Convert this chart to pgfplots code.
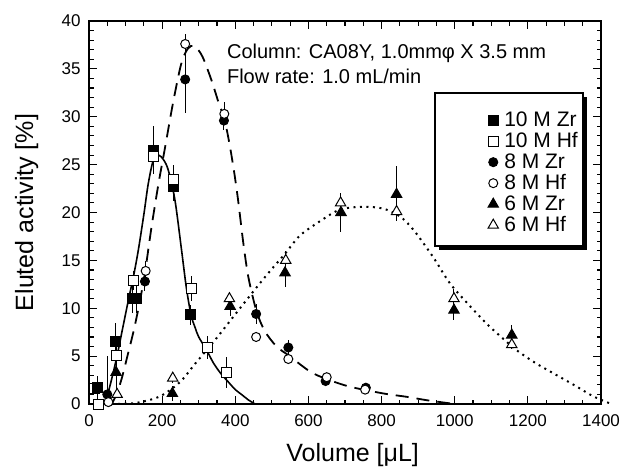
\documentclass[border=0pt]{standalone}
\usepackage{fontspec}
\setmainfont{Liberation Sans}
\usepackage{pgfplots}
\pgfplotsset{compat=1.18}
\usepackage{pgfplotstable}

\pgfplotstableread{
x y ep em
24 1.7 1.2 1.2
73 6.5 2.0 2.0
120 11.0 1.5 1.5
130 11.0 1.5 1.5
176 26.5 2.5 2.5
230 22.7 2.3 1.5
278 9.3 1.0 1.0
}\tenZr
\pgfplotstableread{
x y ep em
27 0.0 0 0
74 5.1 1.0 1.0
123 12.9 1.0 1.0
176 25.8 0 0
230 23.4 1.0 1.0
279 12.1 1.3 1.3
323 5.9 1.2 1.2
376 3.3 1.6 1.6
}\tenHf
\pgfplotstableread{
x y ep em
50 1.0 4.0 0.8
153 12.8 1.0 1.0
263 33.9 3.5 3.5
369 29.6 1.0 1.0
457 9.4 1.0 1.0
545 5.9 0.8 0.8
647 2.4 0 0
757 1.7 0 0
}\eightZr
\pgfplotstableread{
x y ep em
53 0.2 0 0
155 13.9 1.0 1.0
263 37.6 1.0 1.0
370 30.3 1.2 1.2
457 7.0 0 0
545 4.7 0 0
650 2.8 0 0
755 1.5 0 0
}\eightHf
\pgfplotstableread{
x y ep em
74 3.3 2.0 2.0
228 1.1 0.8 0.8
386 10.2 1.0 1.0
536 13.7 1.5 1.5
689 20.0 2.0 2.0
841 21.9 3.0 2.0
998 9.8 1.0 1.0
1156 7.2 1.0 1.0
}\sixZr
\pgfplotstableread{
x y ep em
77 1.0 0 0
229 2.7 0.5 0.5
384 11.0 0.5 0.5
538 15.0 1.0 1.0
688 21.0 1.0 1.0
841 20.1 1.0 1.0
998 11.0 1.0 1.0
1156 6.2 0.5 0.5
}\sixHf

\pgfplotsset{
  pts/.style={only marks, line width=1pt,
    error bars/.cd, y dir=both, y explicit, error mark=none,
    error bar style={line width=1pt, black},
    /pgfplots/.cd,
    legend image code/.code={\path[draw=none,fill=none] (0pt,-6pt) rectangle (46pt,6pt);
      \draw[##1] plot coordinates {(36pt,0pt)};}},
}

\begin{document}
\begin{tikzpicture}
\useasboundingbox (-89pt,-65pt) rectangle (531pt,404pt);
\begin{axis}[
  width=512pt, height=383pt, scale only axis,
  xmin=0, xmax=1400, ymin=0, ymax=40,
  clip=false,
  xtick distance=200, ytick distance=5,
  minor x tick num=3, minor y tick num=4,
  tick align=inside, major tick length=8pt, minor tick length=4.5pt,
  every tick/.style={black, line width=1.1pt},
  axis line style={line width=1.6pt},
  ticklabel style={font=\fontsize{17}{20}\selectfont},
  /pgf/number format/assume math mode=true,
  /pgf/number format/1000 sep={},
  xticklabel style={yshift=-7pt},
  yticklabel style={xshift=-5pt},
  xlabel={Volume [μL]}, ylabel={Eluted activity [\%]},
  label style={font=\fontsize{25}{30}\selectfont},
  xlabel style={at={(axis description cs:0.515,0)}, anchor=base, yshift=-57pt},
  ylabel style={at={(axis description cs:-0.109,0.5)}, anchor=base, rotate=0},
  legend style={at={(0.713,0.769)}, anchor=north west, draw=none, fill=none,
    font=\fontsize{21}{24}\selectfont,
    inner xsep=3pt, inner ysep=0pt, row sep=0pt,
    nodes={inner sep=1pt, text height=15.5pt, text depth=3.5pt}},
  legend cell align=left,
]
% fitted curves
\addplot[black, line width=1.6pt, smooth, forget plot] coordinates {
(44,0) (60,2.3) (76,4.9) (92,7.9) (108,10.9) (122,13.4) (135,16.1) (150,19.8)
(162,23) (176,25.5) (190,26) (204,25.5) (217,24.4) (235,21.3) (253,16.1)
(266,12.2) (279,9.3) (290,8.0) (300,7.0) (322,5.6) (340,4.3) (360,3.2)
(381,2.3) (400,1.5) (417,1.0) (435,0.45) (454,0)};
\addplot[black, line width=1.8pt, dash pattern=on 13pt off 8pt, smooth, forget plot] coordinates {
(62,0) (75,1) (89,2.6) (105,5) (126,8.3) (150,13) (171,18.5) (190,23) (208,26.8)
(230,31.5) (252,35.5) (270,37.1) (288,37.4) (310,36.3) (335,33.8) (355,31.4)
(370,29.8) (384,27.2) (397,24.2) (408,21.2) (422,16.8) (436,13.2) (458,9.7)
(481,7.6) (513,6.0) (545,5.1) (604,3.4) (650,2.6) (714,1.8) (805,1.1) (869,0.75)
(923,0.4) (1000,0)};
\addplot[black, line width=2pt, dash pattern=on 2pt off 4.5pt, smooth, forget plot] coordinates {
(44,0) (126,0.1) (194,0.8) (249,2.3) (290,4.2) (345,6.7) (417,10.2) (480,13.2)
(536,15.7) (577,17.6) (632,19.1) (686,20.3) (750,20.6) (805,20.4) (850,19.6)
(887,18.2) (940,15.4) (987,12.6) (1040,10.3) (1087,8.4) (1130,6.9) (1170,5.6)
(1220,4.3) (1270,3.2) (1330,1.9) (1379,0.8) (1425,0.05)};
% hidden open square at left
\addplot[pts, mark=square*, mark size=5pt, mark options={fill=white, draw=black}, forget plot]
  coordinates {(14,1.6)};
% data
\addplot[pts, mark=square*, mark size=5pt, mark options={fill=black, draw=black}]
  table[x=x, y=y, y error plus=ep, y error minus=em] {\tenZr};
\addlegendentry{10 M Zr}
\addplot[pts, mark=square*, mark size=5pt, mark options={fill=white, draw=black}]
  table[x=x, y=y, y error plus=ep, y error minus=em] {\tenHf};
\addlegendentry{10 M Hf}
\addplot[pts, mark=*, mark size=4.5pt, mark options={fill=black, draw=black}]
  table[x=x, y=y, y error plus=ep, y error minus=em] {\eightZr};
\addlegendentry{8 M Zr}
\addplot[pts, mark=*, mark size=4.5pt, mark options={fill=white, draw=black}]
  table[x=x, y=y, y error plus=ep, y error minus=em] {\eightHf};
\addlegendentry{8 M Hf}
\addplot[pts, mark=triangle*, mark size=6pt, mark options={fill=black, draw=black}]
  table[x=x, y=y, y error plus=ep, y error minus=em] {\sixZr};
\addlegendentry{6 M Zr}
\addplot[pts, mark=triangle*, mark size=6pt, mark options={fill=white, draw=black}]
  table[x=x, y=y, y error plus=ep, y error minus=em] {\sixHf};
\addlegendentry{6 M Hf}
% legend frame with shadow
\draw[line width=1.3pt] (rel axis cs:0.6758,0.812) rectangle (rel axis cs:0.9648,0.4125);
\fill[black] (rel axis cs:0.6836,0.4125) rectangle (rel axis cs:0.9726,0.4021);
\fill[black] (rel axis cs:0.9648,0.8016) rectangle (rel axis cs:0.9726,0.4021);
% annotation
\node[anchor=base west, font=\fontsize{20}{24}\selectfont, inner sep=0pt] at (axis cs:377,36.1) {Column: CA08Y, 1.0mmφ X 3.5 mm};
\node[anchor=base west, font=\fontsize{20}{24}\selectfont, inner sep=0pt] at (axis cs:377,33.5) {Flow rate: 1.0 mL/min};
\end{axis}
\end{tikzpicture}
\end{document}
